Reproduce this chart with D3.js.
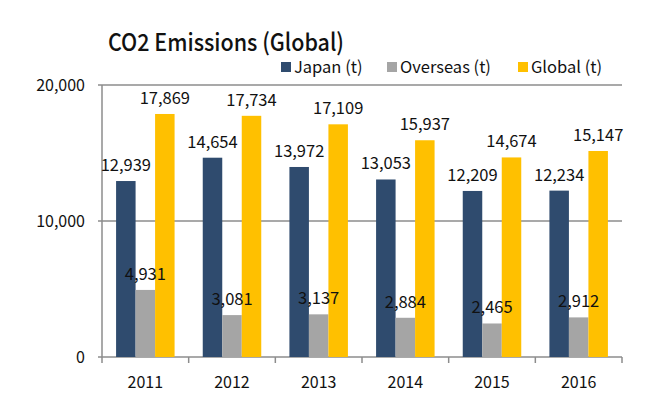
<!DOCTYPE html>
<html>
<head>
<meta charset="utf-8">
<script src="https://cdn.jsdelivr.net/npm/d3@7"></script>
<style>
  body { margin: 0; background: #fff; }
  text { font-family: "Noto Sans CJK JP", "Noto Sans", sans-serif; fill: #111; }
</style>
</head>
<body>
<div id="chart"></div>
<script>
var years = ["2011", "2012", "2013", "2014", "2015", "2016"];
var japan = [12939, 14654, 13972, 13053, 12209, 12234];
var overseas = [4931, 3081, 3137, 2884, 2465, 2912];
var global = [17869, 17734, 17109, 15937, 14674, 15147];
var yTicks = [0, 10000, 20000];

var seriesNames = ["Japan (t)", "Overseas (t)", "Global (t)"];
var colors = ["#2f4b6e", "#a5a5a5", "#ffc000"];

var w = 670, h = 414;
var plotLeft = 102, plotRight = 622, plotTop = 85, plotBottom = 357;
var pad = 0.325;

var svg = d3.select("#chart")
    .append("svg")
    .attr("width", w)
    .attr("height", h);

var series = [japan, overseas, global].map(function(vals, s) {
    return years.map(function(yr, i) {
        return { year: yr, value: vals[i], s: s };
    });
});

var x0 = d3.scaleBand()
    .domain(years)
    .range([plotLeft, plotRight])
    .paddingInner(pad)
    .paddingOuter(pad / 2);

var x1 = d3.scaleBand()
    .domain([0, 1, 2])
    .range([0, x0.bandwidth()]);

var y = d3.scaleLinear()
    .domain([0, 20000])
    .range([plotBottom, plotTop]);

var fmt = d3.format(",");

// gridlines
svg.selectAll(".grid")
    .data(yTicks)
    .enter()
    .append("line")
    .attr("x1", plotLeft - 4)
    .attr("x2", plotRight)
    .attr("y1", function(d) { return y(d); })
    .attr("y2", function(d) { return y(d); })
    .attr("stroke", "#8c8c8c")
    .attr("stroke-width", 1.5);

// y axis line
svg.append("line")
    .attr("x1", plotLeft).attr("x2", plotLeft)
    .attr("y1", plotTop).attr("y2", plotBottom)
    .attr("stroke", "#8c8c8c")
    .attr("stroke-width", 1.5);

// x ticks at category boundaries
var step = x0.step();
var bounds = years.map(function(yr) { return x0(yr) - step * pad / 2; });
bounds.push(plotRight);
svg.selectAll(".xtick")
    .data(bounds)
    .enter()
    .append("line")
    .attr("x1", function(d) { return d; })
    .attr("x2", function(d) { return d; })
    .attr("y1", plotBottom)
    .attr("y2", plotBottom + 6)
    .attr("stroke", "#8c8c8c")
    .attr("stroke-width", 1.5);

// y labels
svg.selectAll(".ylabel")
    .data(yTicks)
    .enter()
    .append("text")
    .attr("x", plotLeft - 17)
    .attr("y", function(d) { return y(d); })
    .attr("dy", "0.35em")
    .attr("text-anchor", "end")
    .attr("font-size", "16px")
    .text(function(d) { return fmt(d); });

// x labels
svg.selectAll(".xlabel")
    .data(years)
    .enter()
    .append("text")
    .attr("x", function(d) { return x0(d) + x0.bandwidth() / 2; })
    .attr("y", 388)
    .attr("text-anchor", "middle")
    .attr("font-size", "16px")
    .text(function(d) { return d; });

// bars
series.forEach(function(data, s) {
    svg.selectAll(".bar" + s)
        .data(data)
        .enter()
        .append("rect")
        .attr("x", function(d) { return x0(d.year) + x1(s); })
        .attr("y", function(d) { return y(d.value); })
        .attr("width", x1.bandwidth())
        .attr("height", function(d) { return plotBottom - y(d.value); })
        .attr("fill", colors[s]);
});

// value labels
series.forEach(function(data, s) {
    svg.selectAll(".val" + s)
        .data(data)
        .enter()
        .append("text")
        .attr("x", function(d) { return x0(d.year) + x1(s) + x1.bandwidth() / 2; })
        .attr("y", function(d) { return y(d.value) - 10; })
        .attr("text-anchor", "middle")
        .attr("font-size", "16.5px")
        .text(function(d) { return fmt(d.value); });
});

// title
svg.append("text")
    .attr("x", 108)
    .attr("y", 51)
    .attr("font-size", "24px")
    .attr("font-weight", "500")
    .attr("textLength", 236)
    .attr("lengthAdjust", "spacingAndGlyphs")
    .text("CO2 Emissions (Global)");

// legend
var legX = [281, 387, 518];
var leg = svg.selectAll(".leg")
    .data(seriesNames)
    .enter()
    .append("g")
    .attr("transform", function(d, i) { return "translate(" + legX[i] + ",62)"; });
leg.append("rect")
    .attr("width", 10)
    .attr("height", 10)
    .attr("fill", function(d, i) { return colors[i]; });
leg.append("text")
    .attr("x", 13)
    .attr("y", 11)
    .attr("font-size", "16.5px")
    .text(function(d) { return d; });
</script>
</body>
</html>
